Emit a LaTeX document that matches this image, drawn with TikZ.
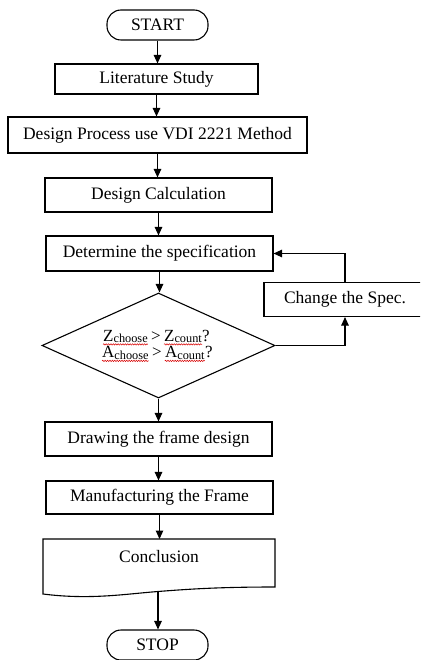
\documentclass[tikz,border=0pt]{standalone}
\usepackage{fontspec}
\setmainfont{Liberation Serif}
\usetikzlibrary{arrows.meta,shapes.geometric,decorations.pathmorphing}

\newcommand{\subtxt}[1]{{\fontsize{12.3}{13}\selectfont\raisebox{-1.6pt}{#1}}}

\tikzset{
  box/.style={draw, line width=1.1pt, rectangle, inner sep=0pt,
    font=\fontsize{17.5}{20}\selectfont},
  term/.style={box, rounded corners=14pt, minimum width=101pt, minimum height=30pt},
  arr/.style={line width=1.1pt, -{Triangle[length=8.5pt,width=7.5pt]}},
  piece/.style={inner sep=0pt, anchor=base west, font=\fontsize{17}{18}\selectfont},
  relsign/.style={piece, inner xsep=3pt},
  squig/.style={red!85!black, line width=0.5pt, decorate,
    decoration={snake, amplitude=0.7pt, segment length=2.4pt}}
}

\begin{document}
\begin{tikzpicture}[x=1pt, y=-1pt]
  \clip (0,0) rectangle (420,660);
  \fill[white] (0,0) rectangle (420,660);

  % main column
  \node[term] (start) at (157.5,25) {START};
  \node[box, minimum width=203pt, minimum height=30pt] (lit) at (156.5,79) {Literature Study};
  \node[box, minimum width=299pt, minimum height=36pt] (dp) at (157.5,135) {Design Process use VDI 2221 Method};
  \node[box, minimum width=227pt, minimum height=34pt] (calc) at (158.5,195) {Design Calculation};
  \node[box, minimum width=227pt, minimum height=35pt] (spec) at (159.5,253.5) {Determine the specification};
  \node[diamond, draw, line width=1.1pt, inner sep=0pt, minimum width=233pt, minimum height=105pt] (dec) at (158.5,345.5) {};
  \node[box, minimum width=162pt, minimum height=34pt] (chg) at (345,299.5) {Change the Spec.};
  \node[box, minimum width=227pt, minimum height=34pt] (drw) at (158.5,439) {Drawing the frame design};
  \node[box, minimum width=227pt, minimum height=33pt] (man) at (159.5,497.5) {Manufacturing the Frame};

  % document shape with wavy bottom
  \draw[line width=1.1pt] (43,539) -- (275,539) -- (275,587)
    .. controls (220,587) and (190,589) .. (158,591.5)
    .. controls (125,594) and (90,600) .. (43,594) -- cycle;
  \node[inner sep=0pt, font=\fontsize{17.5}{20}\selectfont] (concl) at (159,557) {Conclusion};
  \coordinate (conclb) at (158,591.5);

  \node[term] (stop) at (157.5,645) {STOP};

  % condition text inside the decision
  \node[piece] (za) at (103,341) {Z\subtxt{choose}};
  \node[relsign] (g1) at (za.base east) {>};
  \node[piece] (zb) at (g1.base east) {Z\subtxt{count}};
  \node[piece] (q1) at (zb.base east) {?};
  \node[piece] (aa) at (102,357.5) {A\subtxt{choose}};
  \node[relsign] (g2) at (aa.base east) {>};
  \node[piece] (ab) at (g2.base east) {A\subtxt{count}};
  \node[piece] (q2) at (ab.base east) {?};
  \foreach \w in {za,zb,aa,ab}
    \draw[squig] ([yshift=-3.4pt]\w.base west) -- ([yshift=-3.4pt]\w.base east);

  % connectors
  \draw[arr] (start.south) -- (start.south |- lit.north);
  \draw[arr] (lit.south) -- (lit.south |- dp.north);
  \draw[arr] (dp.south) -- (dp.south |- calc.north);
  \draw[arr] (calc.south) -- (calc.south |- spec.north);
  \draw[arr] (spec.south) -- (spec.south |- dec.north);
  \draw[arr] (dec.east) -| (chg.south);
  \draw[arr] (chg.north) |- (spec.east);
  \draw[arr] (dec.south) -- (dec.south |- drw.north);
  \draw[arr] (drw.south) -- (drw.south |- man.north);
  \draw[arr] (man.south) -- (man.south |- 0,539);
  \draw[arr] (conclb) -- (conclb |- stop.north);
\end{tikzpicture}
\end{document}
